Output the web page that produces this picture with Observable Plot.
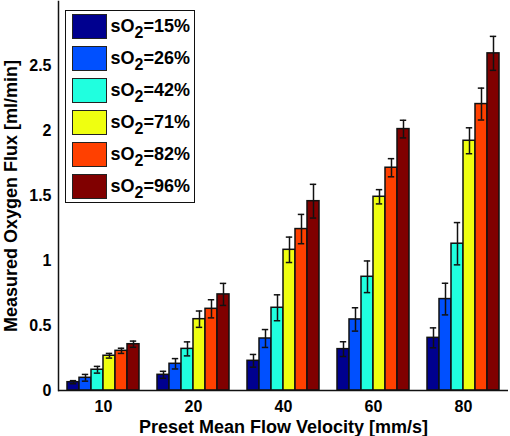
<!DOCTYPE html>
<html>
<head>
<meta charset="utf-8">
<script src="https://cdn.jsdelivr.net/npm/d3@7"></script>
<script src="https://cdn.jsdelivr.net/npm/@observablehq/plot@0.6"></script>
<style>
  body { margin: 0; background: #fff; }
  #wrap { position: relative; width: 510px; height: 436px; font-family: "Liberation Sans", Arial, sans-serif; }
  #wrap svg g[aria-label="y-axis label"] text,
  #wrap svg g[aria-label="fx-axis label"] text { font-size: 18px; }
  .legend { position: absolute; left: 65px; top: 10px; width: 130px; height: 193px; box-sizing: border-box;
            border: 1.5px solid #111; background: #fff; padding: 2.5px 0 0 5.5px; }
  .row { display: flex; align-items: center; height: 25px; margin-bottom: 7px; }
  .sw { width: 35px; height: 25px; box-sizing: border-box; border: 1.5px solid #222; flex: none; }
  .lab { margin-left: 4px; font-weight: bold; font-size: 18px; line-height: 18px; color: #000; white-space: nowrap; }
  .lab sub { font-size: 16px; line-height: 0; vertical-align: -6px; }
</style>
</head>
<body>
<div id="wrap"></div>
<script>
// Categories
const velocities = ["10", "20", "40", "60", "80"];
const saturations = ["15%", "26%", "42%", "71%", "82%", "96%"];
const colors = ["#00008F", "#0050FF", "#20FFDF", "#EFFF10", "#FF4000", "#800000"];
const yTicks = [0, 0.5, 1, 1.5, 2, 2.5];

// Mean measured flux per saturation, across velocities 10,20,40,60,80
const flux15 = [0.064, 0.121, 0.229, 0.319, 0.406];
const flux26 = [0.098, 0.206, 0.401, 0.548, 0.705];
const flux42 = [0.160, 0.321, 0.638, 0.877, 1.132];
const flux71 = [0.268, 0.550, 1.085, 1.494, 1.926];
const flux82 = [0.306, 0.630, 1.245, 1.718, 2.209];
const flux96 = [0.357, 0.741, 1.460, 2.016, 2.600];

// Error (± half-length of error bars)
const err15 = [0.012, 0.027, 0.049, 0.057, 0.077];
const err26 = [0.026, 0.040, 0.069, 0.090, 0.122];
const err42 = [0.026, 0.054, 0.100, 0.122, 0.163];
const err71 = [0.018, 0.063, 0.098, 0.055, 0.100];
const err82 = [0.020, 0.070, 0.113, 0.070, 0.123];
const err96 = [0.024, 0.085, 0.130, 0.068, 0.131];

const fluxes = [flux15, flux26, flux42, flux71, flux82, flux96];
const errs = [err15, err26, err42, err71, err82, err96];

const rows = [];
saturations.forEach((s, i) => velocities.forEach((v, j) => {
  rows.push({velocity: v, sat: s, value: fluxes[i][j], err: errs[i][j]});
}));

const ink = "#111";
const chart = Plot.plot({
  width: 510,
  height: 436,
  marginLeft: 57,
  marginRight: 1,
  marginTop: 1,
  marginBottom: 46,
  style: {fontFamily: "'Liberation Sans', Arial, sans-serif", fontWeight: "bold", fontSize: "16px", color: "#000", background: "#fff"},
  fx: {domain: velocities, padding: 0},
  x: {domain: saturations, paddingInner: 0, paddingOuter: 0.66, axis: null},
  y: {domain: [0, 3]},
  color: {domain: saturations, range: colors},
  marks: [
    Plot.barY(rows, {fx: "velocity", x: "sat", y: "value", fill: "sat", stroke: ink, strokeWidth: 1.5}),
    Plot.ruleX(rows, {fx: "velocity", x: "sat", y1: d => d.value - d.err, y2: d => d.value + d.err, stroke: ink, strokeWidth: 1.5}),
    Plot.tickY(rows, {fx: "velocity", x: "sat", y: d => d.value - d.err, stroke: ink, strokeWidth: 1.5, insetLeft: 2.8, insetRight: 2.8}),
    Plot.tickY(rows, {fx: "velocity", x: "sat", y: d => d.value + d.err, stroke: ink, strokeWidth: 1.5, insetLeft: 2.8, insetRight: 2.8}),
    Plot.ruleY([0], {stroke: ink, strokeWidth: 1.5}),
    Plot.frame({anchor: "left", facetAnchor: "left", stroke: ink, strokeWidth: 1.5}),
    Plot.axisY({ticks: yTicks, tickFormat: d => String(d), tickSize: 0, tickPadding: 7, label: "Measured Oxygen Flux [ml/min]", labelAnchor: "center", labelArrow: "none", labelOffset: 54}),
    Plot.axisFx({anchor: "bottom", tickSize: 0, tickPadding: 10, label: "Preset Mean Flow Velocity [mm/s]", labelAnchor: "center", labelArrow: "none", labelOffset: 42})
  ]
});

const wrap = document.getElementById("wrap");
wrap.appendChild(chart);

// Legend (HTML overlay inside the axes, built from the same categories/colours)
const legend = document.createElement("div");
legend.className = "legend";
saturations.forEach((s, i) => {
  const row = document.createElement("div");
  row.className = "row";
  const sw = document.createElement("div");
  sw.className = "sw";
  sw.style.background = colors[i];
  const lab = document.createElement("span");
  lab.className = "lab";
  lab.innerHTML = "sO<sub>2</sub>=" + s;
  row.appendChild(sw);
  row.appendChild(lab);
  legend.appendChild(row);
});
wrap.appendChild(legend);
</script>
</body>
</html>
